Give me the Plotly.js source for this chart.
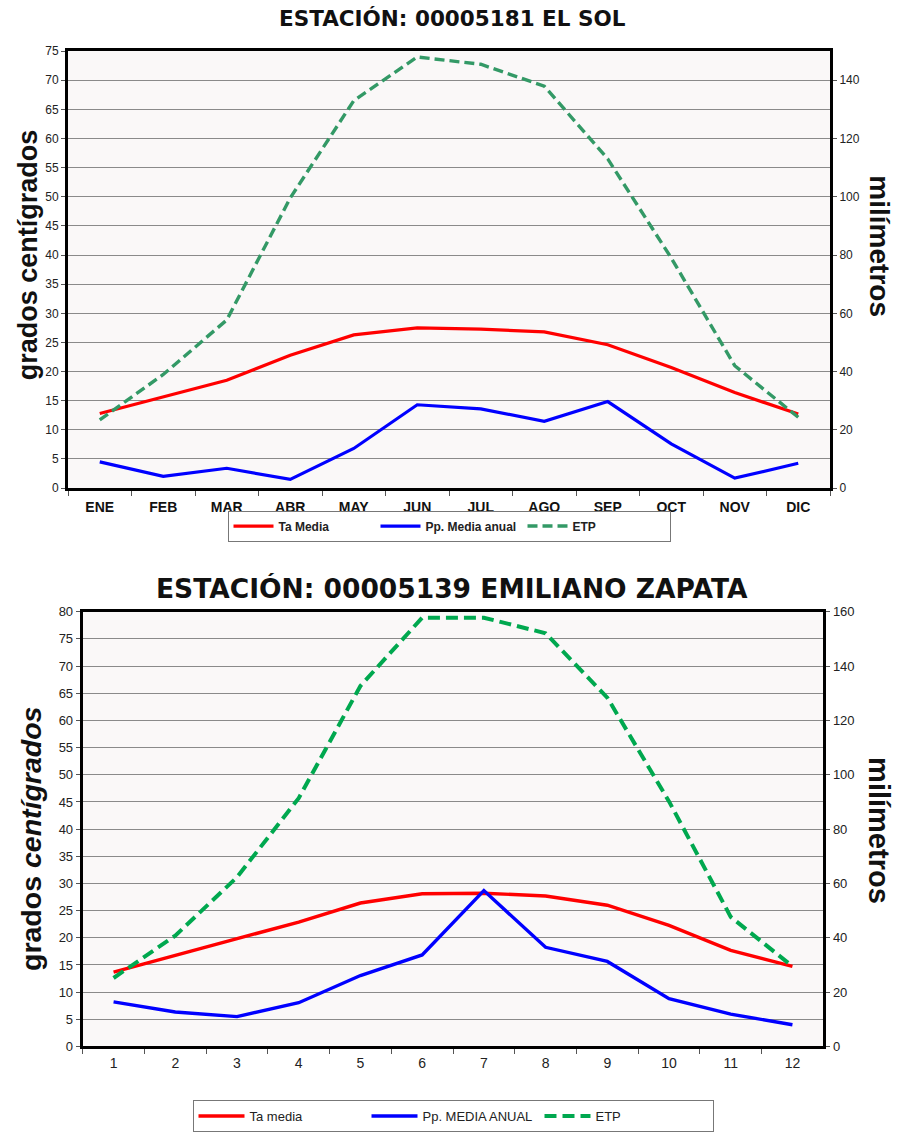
<!DOCTYPE html>
<html><head><meta charset="utf-8">
<script src="https://cdn.plot.ly/plotly-3.0.1.min.js"></script>
<style>body{margin:0;background:#fff}#c{width:898px;height:1132px}</style>
</head><body><div id="c"></div>
<script>
// Station 1: EL SOL
const months1 = ["ENE","FEB","MAR","ABR","MAY","JUN","JUL","AGO","SEP","OCT","NOV","DIC"];
const ta1  = [12.8, 15.7, 18.5, 22.8, 26.3, 27.5, 27.3, 26.8, 24.6, 20.7, 16.4, 12.7];
const pp1  = [9.0, 4.0, 6.8, 3.0, 13.6, 28.6, 27.2, 22.9, 29.7, 15.2, 3.4, 8.5];
const etp1 = [23.4, 39.0, 57.7, 99.6, 133.0, 148.0, 145.5, 138.0, 113.0, 79.0, 42.0, 24.3];
const names1 = ["Ta Media","Pp. Media anual","ETP"];
const title1 = "ESTACIÓN: 00005181 EL SOL";

// Station 2: EMILIANO ZAPATA
const months2 = ["1","2","3","4","5","6","7","8","9","10","11","12"];
const ta2  = [13.7, 16.75, 19.9, 22.9, 26.4, 28.1, 28.2, 27.7, 26.0, 22.3, 17.7, 14.75];
const pp2  = [16.4, 12.7, 11.0, 16.1, 26.1, 33.7, 57.4, 36.5, 31.3, 17.6, 11.9, 8.0];
const etp2 = [25.2, 40.8, 62.3, 91.4, 132.7, 157.8, 157.8, 152.1, 128.4, 90.2, 47.7, 29.5];
const names2 = ["Ta media","Pp. MEDIA ANUAL","ETP"];
const title2 = "ESTACIÓN: 00005139 EMILIANO ZAPATA";

const F = "Liberation Sans, Arial, sans-serif";
const FW = "DejaVu Sans, Liberation Sans, sans-serif";
const traces = [
  {x: months1, y: ta1,  name: names1[0], xaxis:'x',  yaxis:'y',  type:'scatter', mode:'lines', line:{color:'#ff0000', width:3.2}, legend:'legend'},
  {x: months1, y: pp1,  name: names1[1], xaxis:'x',  yaxis:'y2', type:'scatter', mode:'lines', line:{color:'#0000ff', width:3.2}, legend:'legend'},
  {x: months1, y: etp1, name: names1[2], xaxis:'x',  yaxis:'y2', type:'scatter', mode:'lines', line:{color:'#339966', width:3.4, dash:'10px,5px'}, legend:'legend'},
  {x: months2, y: ta2,  name: names2[0], xaxis:'x2', yaxis:'y3', type:'scatter', mode:'lines', line:{color:'#ff0000', width:3.4}, legend:'legend2'},
  {x: months2, y: pp2,  name: names2[1], xaxis:'x2', yaxis:'y4', type:'scatter', mode:'lines', line:{color:'#0000ff', width:3.4}, legend:'legend2'},
  {x: months2, y: etp2, name: names2[2], xaxis:'x2', yaxis:'y4', type:'scatter', mode:'lines', line:{color:'#00a84f', width:4, dash:'12px,6px'}, legend:'legend2'}
];

const W = 898, H = 1132;
const px = v => v / W, py = v => 1 - v / H;
const axLine = {showline:true, linecolor:'#000', linewidth:3};

const layout = {
  width: W, height: H,
  margin: {l:0, r:0, t:0, b:0},
  paper_bgcolor: '#ffffff',
  plot_bgcolor: '#faf8f8',
  showlegend: true,
  font: {family: F, color: '#222'},
  xaxis: Object.assign({domain:[px(68), px(830)], anchor:'y', type:'category', tickson:'boundaries',
    ticks:'outside', ticklen:5, tickcolor:'#555', mirror:true, showgrid:false, range:[-0.5, 11.5],
    ticklabelstandoff:4, tickfont:{family:F, size:14, weight:'bold', color:'#111'}}, axLine),
  yaxis: Object.assign({domain:[py(493.3), py(51.7)], anchor:'x', range:[0,75], dtick:5, tick0:0,
    ticks:'outside', ticklen:4, tickcolor:'#555', showgrid:true, gridcolor:'#8a8a8a', gridwidth:1,
    zeroline:false, tickfont:{family:F, size:12, color:'#222'}}, axLine),
  yaxis2: Object.assign({overlaying:'y', side:'right', anchor:'x', range:[0,150], dtick:20, tick0:0,
    ticks:'outside', ticklen:4, tickcolor:'#555', showgrid:false, zeroline:false,
    tickfont:{family:F, size:12, color:'#222'}}, axLine),
  xaxis2: Object.assign({domain:[px(82.7), px(823.3)], anchor:'y3', type:'category', tickson:'boundaries',
    ticks:'outside', ticklen:5, tickcolor:'#555', mirror:true, showgrid:false, range:[-0.5, 11.5],
    ticklabelstandoff:2, tickfont:{family:F, size:14, color:'#222'}}, axLine),
  yaxis3: Object.assign({domain:[py(1057.7), py(618.3)], anchor:'x2', range:[0,80], dtick:5, tick0:0,
    ticks:'outside', ticklen:4, tickcolor:'#555', showgrid:true, gridcolor:'#8a8a8a', gridwidth:1,
    zeroline:false, tickfont:{family:F, size:13, color:'#222'}}, axLine),
  yaxis4: Object.assign({overlaying:'y3', side:'right', anchor:'x2', range:[0,160], dtick:20, tick0:0,
    ticks:'outside', ticklen:4, tickcolor:'#555', showgrid:false, zeroline:false,
    tickfont:{family:F, size:13, color:'#222'}}, axLine),
  legend: {orientation:'h', x:px(449), xanchor:'center', y:py(516), yanchor:'top',
    bordercolor:'#777', borderwidth:1, bgcolor:'#fff', entrywidth:92,
    font:{family:F, size:12, weight:'bold', color:'#222'}, itemwidth:40, tracegroupgap:0},
  legend2: {orientation:'h', x:px(453), xanchor:'center', y:py(1112), yanchor:'top',
    bordercolor:'#777', borderwidth:1, bgcolor:'#fff', entrywidth:112,
    font:{family:F, size:13, color:'#222'}, itemwidth:46, tracegroupgap:0},
  annotations: [
    {text: title1, xref:'paper', yref:'paper', x:px(452), y:py(19), xanchor:'center', yanchor:'middle',
     showarrow:false, font:{family:FW, size:21.5, weight:'bold', color:'#111'}},
    {text: title2, xref:'paper', yref:'paper', x:px(452), y:py(595), xanchor:'center', yanchor:'middle',
     showarrow:false, font:{family:FW, size:26.5, weight:'bold', color:'#111'}},
    {text: 'grados centígrados', xref:'paper', yref:'paper', x:px(28), y:py(258), textangle:-90,
     xanchor:'center', yanchor:'middle', showarrow:false, font:{family:F, size:27, weight:'bold', color:'#111'}},
    {text: 'grados <i>centígrados</i>', xref:'paper', yref:'paper', x:px(31), y:py(848), textangle:-90,
     xanchor:'center', yanchor:'middle', showarrow:false, font:{family:F, size:28.5, weight:'bold', color:'#111'}},
    {text: 'milímetros', xref:'paper', yref:'paper', x:px(880), y:py(249), textangle:90,
     xanchor:'center', yanchor:'middle', showarrow:false, font:{family:F, size:28, weight:'bold', color:'#111'}},
    {text: 'milímetros', xref:'paper', yref:'paper', x:px(879), y:py(839), textangle:90,
     xanchor:'center', yanchor:'middle', showarrow:false, font:{family:F, size:29, weight:'bold', color:'#111'}}
  ]
};

Plotly.newPlot('c', traces, layout, {displayModeBar:false, staticPlot:true});
</script></body></html>
